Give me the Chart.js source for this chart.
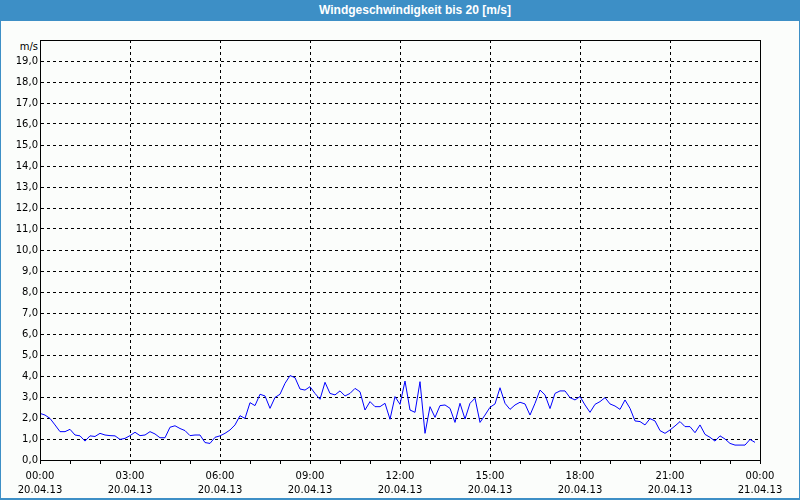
<!DOCTYPE html>
<html>
<head>
<meta charset="utf-8">
<script src="https://cdn.jsdelivr.net/npm/chart.js@4"></script>
<style>
  body { margin: 0; background: #fbfdfb; }
  #wrap { position: relative; width: 800px; height: 500px; }
  #frame {
    position: absolute; left: 0; top: 0; width: 800px; height: 500px;
    box-sizing: border-box; border: 1px solid #3d8fc6; border-bottom-width: 2px;
  }
  #title {
    position: absolute; left: 0; top: 0; width: 800px; height: 21px;
    background: #3d8fc6; color: #fff; text-align: center;
    font: bold 12px "Liberation Sans", Arial, sans-serif; line-height: 21px;
    box-sizing: border-box; padding-left: 30px;
  }
  #unit {
    position: absolute; left: 0; width: 38px; top: 41px; text-align: right;
    font: 10px "DejaVu Sans", sans-serif; color: #000;
  }
  canvas { position: absolute; left: 0; top: 0; }
</style>
</head>
<body>
<div id="wrap">
  <div id="frame"></div>
  <div id="title">Windgeschwindigkeit bis 20 [m/s]</div>
  <div id="unit">m/s</div>
  <canvas id="canvas1" width="800" height="500"></canvas>
</div>
<script>
// wind speed in m/s, one reading every 10 minutes from 00:00 on 20.04.13
var sampleMinutes = 10;
var windValues = [
  2.22, 2.14, 1.98, 1.67, 1.35, 1.35, 1.46, 1.19, 1.15, 0.9, 1.15, 1.12,
  1.27, 1.19, 1.16, 1.15, 0.98, 1.03, 1.16, 1.32, 1.16, 1.19, 1.35, 1.24,
  1.06, 1.06, 1.56, 1.63, 1.5, 1.4, 1.16, 1.19, 1.19, 0.83, 0.79, 1.08,
  1.15, 1.27, 1.43, 1.67, 2.11, 1.98, 2.73, 2.59, 3.13, 3.05, 2.46, 2.98,
  3.13, 3.65, 4.02, 3.92, 3.38, 3.33, 3.49, 3.17, 2.89, 3.7, 3.17, 3.1,
  3.29, 3.05, 3.17, 3.41, 3.25, 2.38, 2.78, 2.54, 2.54, 2.7, 1.94, 3.02,
  2.65, 3.76, 2.38, 2.27, 3.73, 1.27, 2.54, 2.03, 2.59, 2.62, 2.46, 1.79,
  2.7, 1.95, 2.7, 2.94, 1.79, 2.14, 2.51, 2.67, 3.44, 2.7, 2.41, 2.62,
  2.75, 2.67, 2.14, 2.7, 3.33, 3.1, 2.45, 3.17, 3.29, 3.29, 2.97, 2.86,
  3.02, 2.62, 2.27, 2.65, 2.78, 2.97, 2.67, 2.57, 2.41, 2.86, 2.46, 1.86,
  1.83, 1.67, 1.97, 1.86, 1.4, 1.27, 1.43, 1.62, 1.83, 1.59, 1.59, 1.3,
  1.67, 1.22, 1.08, 0.9, 1.15, 1.0, 0.79, 0.71, 0.71, 0.71, 0.98, 0.84,
];
// one label every 3 hours
var xTickLabels = [
  ["00:00", "20.04.13"],
  ["03:00", "20.04.13"],
  ["06:00", "20.04.13"],
  ["09:00", "20.04.13"],
  ["12:00", "20.04.13"],
  ["15:00", "20.04.13"],
  ["18:00", "20.04.13"],
  ["21:00", "20.04.13"],
  ["00:00", "21.04.13"],
];

var points = windValues.map(function (v, i) {
  return { x: (i * sampleMinutes) / 60, y: v };
});

var tickFont = { family: "DejaVu Sans", size: 10, lineHeight: 1.4 };

var framePlugin = {
  id: "frame",
  afterDraw: function (chart) {
    var a = chart.chartArea;
    var ctx = chart.ctx;
    ctx.save();
    ctx.strokeStyle = "#000";
    ctx.lineWidth = 1;
    ctx.strokeRect(Math.round(a.left) + 0.5, Math.round(a.top) + 0.5,
      Math.round(a.right - a.left), Math.round(a.bottom - a.top));
    ctx.restore();
  },
};

new Chart("canvas1", {
  type: "line",
  data: {
    datasets: [
      {
        data: points,
        borderColor: "#0000ff",
        borderWidth: 1,
        pointRadius: 0,
        tension: 0,
        fill: false,
      },
    ],
  },
  options: {
    responsive: false,
    animation: false,
    layout: { padding: { left: 0, top: 40, right: 40, bottom: 0 } },
    plugins: {
      legend: { display: false },
      tooltip: { enabled: false },
    },
    scales: {
      x: {
        type: "linear",
        min: 0,
        max: 24,
        afterFit: function (scale) { scale.height = 40; },
        ticks: {
          stepSize: 1,
          autoSkip: false,
          maxRotation: 0,
          padding: 5,
          color: "#000",
          font: tickFont,
          callback: function (value) {
            return value % 3 === 0 ? xTickLabels[value / 3] : "";
          },
        },
        grid: {
          color: function (ctx) {
            var v = ctx.tick ? ctx.tick.value : 0;
            return v % 3 === 0 && v > 0 && v < 24 ? "#000" : "rgba(0,0,0,0)";
          },
          tickColor: "#000",
          tickLength: 4,
          lineWidth: 1,
        },
        border: { color: "#000", dash: [3, 3] },
      },
      y: {
        min: 0,
        max: 20,
        afterFit: function (scale) { scale.width = 40; },
        ticks: {
          stepSize: 1,
          padding: 2,
          color: "#000",
          font: tickFont,
          callback: function (value) {
            return value === 20 ? "" : value.toFixed(1).replace(".", ",");
          },
        },
        grid: {
          drawTicks: false,
          color: function (ctx) {
            var v = ctx.tick ? ctx.tick.value : 0;
            return v > 0 && v < 20 ? "#000" : "rgba(0,0,0,0)";
          },
          lineWidth: 1,
        },
        border: { color: "#000", dash: [3, 3] },
      },
    },
  },
  plugins: [framePlugin],
});
</script>
</body>
</html>
